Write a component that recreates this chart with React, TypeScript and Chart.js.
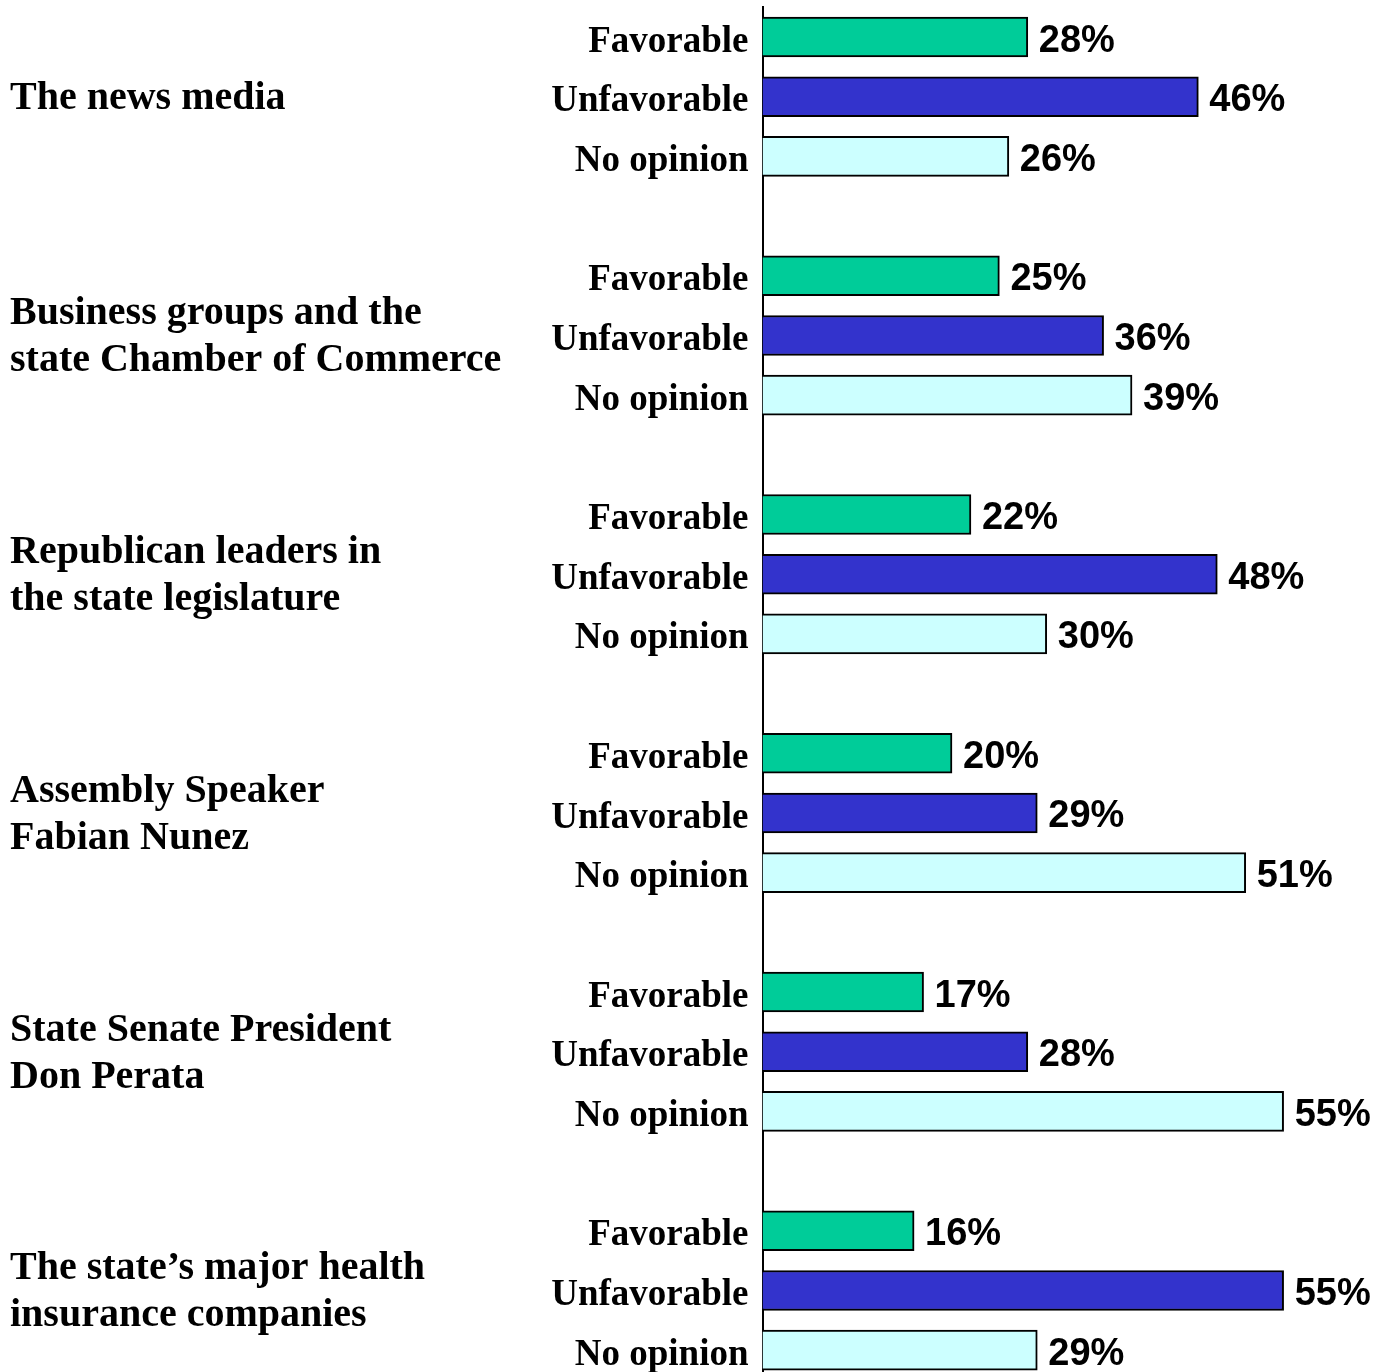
import React, { useEffect, useRef } from "react";
import { Chart, registerables } from "chart.js";

Chart.register(...registerables);

const groups: string[][] = [
  ["The news media"],
  ["Business groups and the", "state Chamber of Commerce"],
  ["Republican leaders in", "the state legislature"],
  ["Assembly Speaker", "Fabian Nunez"],
  ["State Senate President", "Don Perata"],
  ["The state\u2019s major health", "insurance companies"],
];
const responseLabels = ["Favorable", "Unfavorable", "No opinion"];
const favorable = [28, 25, 22, 20, 17, 16];
const unfavorable = [46, 36, 48, 29, 28, 55];
const noOpinion = [26, 39, 30, 51, 55, 29];
const seriesColors = ["#00CC99", "#3333CC", "#CCFFFF"];

export default function App() {
  const ref = useRef<HTMLCanvasElement | null>(null);

  useEffect(() => {
    if (!ref.current) return;
    const labels: string[] = [];
    const data: (number | null)[] = [];
    const colors: string[] = [];
    groups.forEach((_, g) => {
      const vals = [favorable[g], unfavorable[g], noOpinion[g]];
      vals.forEach((v, k) => {
        labels.push(responseLabels[k]);
        data.push(v);
        colors.push(seriesColors[k]);
      });
      if (g < groups.length - 1) {
        labels.push("");
        data.push(null);
        colors.push("#ffffff");
      }
    });

    const labelPlugin = {
      id: "customLabels",
      afterDraw(chart: any) {
        const ctx = chart.ctx;
        const ys = chart.scales.y;
        const xs = chart.scales.x;
        ctx.save();
        // value labels
        ctx.font = "bold 38px 'Liberation Sans', Arial, sans-serif";
        ctx.fillStyle = "#000";
        ctx.textAlign = "left";
        ctx.textBaseline = "middle";
        data.forEach((v, i) => {
          if (v === null) return;
          const x = xs.getPixelForValue(v) + 11;
          const y = ys.getPixelForValue(i) + 4;
          ctx.fillText(v + "%", x, y);
        });
        // group labels
        ctx.font = "bold 40px 'Liberation Serif', 'Times New Roman', serif";
        groups.forEach((lines, g) => {
          const yc = ys.getPixelForValue(g * 4 + 1) + 2;
          const lh = 47;
          const start = yc - ((lines.length - 1) * lh) / 2;
          lines.forEach((ln, j) => {
            ctx.fillText(ln, 10, start + j * lh);
          });
        });
        ctx.restore();
      },
    };

    const chart = new Chart(ref.current, {
      type: "bar",
      data: {
        labels,
        datasets: [
          {
            data,
            backgroundColor: colors,
            borderColor: "#000",
            borderWidth: 2,
            barThickness: 40,
          },
        ],
      },
      options: {
        indexAxis: "y",
        animation: false,
        responsive: false,
        devicePixelRatio: 1,
        layout: { padding: { top: 7.2, right: 57, left: 0, bottom: 0 } },
        plugins: {
          legend: { display: false },
          tooltip: { enabled: false },
        },
        scales: {
          x: {
            display: false,
            min: 0,
            max: 60,
          },
          y: {
            type: "category",
            offset: true,
            grid: { display: false, drawTicks: false },
            border: { display: true, color: "#000", width: 2 },
            afterFit(scale: any) {
              scale.width = 762.5;
              scale.paddingTop = 0;
              scale.paddingBottom = 0;
            },
            ticks: {
              autoSkip: false,
              padding: 14,
              labelOffset: 5,
              color: "#000",
              font: {
                family: "'Liberation Serif', 'Times New Roman', serif",
                size: 37,
                weight: "bold",
              },
            },
          },
        },
      },
      plugins: [labelPlugin],
    } as any);
    return () => chart.destroy();
  }, []);

  return (
    <div style={{ position: "absolute", left: 0, top: 0, width: 1388, height: 1380, background: "#fff" }}>
      <canvas ref={ref} width={1388} height={1380} />
    </div>
  );
}
